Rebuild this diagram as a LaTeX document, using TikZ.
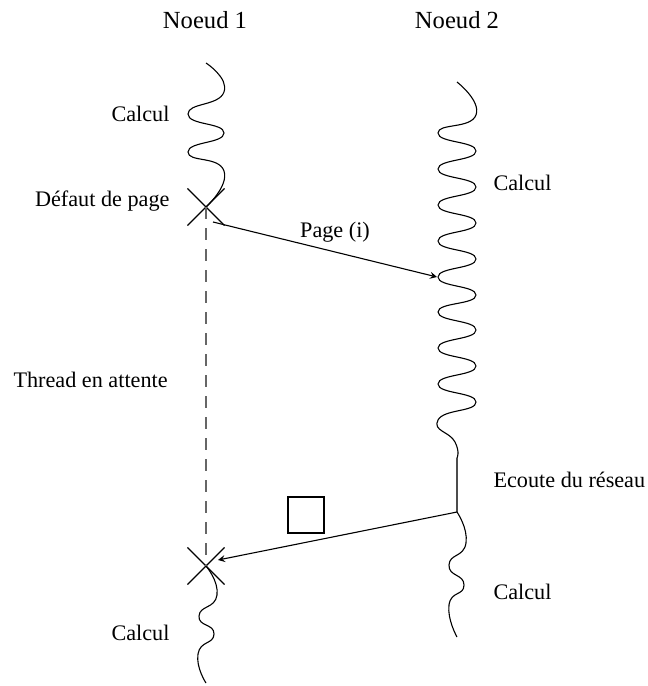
\documentclass[tikz,border=0pt]{standalone}
\usepackage{fontspec}
\setmainfont{Liberation Serif}
\usetikzlibrary{shapes.misc}

\tikzset{
  calcul/.style={smooth,tension=1},
  attente/.style={black!60,line width=0.6pt,dash pattern=on 6pt off 4.5pt},
  croix/.style={draw,cross out,inner sep=0pt,minimum size=18pt},
  lbl/.style={font=\fontsize{11.1}{13}\selectfont,inner sep=0pt}
}

\begin{document}
\begin{tikzpicture}[x=0.5pt,y=-0.5pt,line width=0.55pt]
\useasboundingbox (0,0) rectangle (648,686);
% les deux noeuds
\node (n1) at (205,20) {\fontsize{12.3}{15}\selectfont Noeud 1};
\node (n2) at (457,20) {\fontsize{12.3}{15}\selectfont Noeud 2};
\coordinate (c2) at (457,458);
\coordinate (e2) at (457,512);
\node[croix] (x1) at (206,207) {};
\node[croix] (x2) at (206,566) {};
% noeud 1
\draw plot[calcul] coordinates {(206,63) (224,92) (188,114) (224,133) (188,152) (224,171) (206,207)};
\draw[attente] (x1.center) -- (x2.center);
\draw plot[calcul] coordinates {(206,566) (217,595) (199,616) (214,634) (198,654) (206,683)};
% noeud 2
\draw plot[calcul] coordinates {(457,82) (476,115) (438,133) (476,151) (438,169) (476,187)
  (438,205) (476,223) (438,241) (476,259) (438,277) (476,295) (438,312) (476,330)
  (438,348) (476,366) (438,384) (476,402) (438,420) (455,442) (457,458)};
\draw[black!70] (c2) -- (e2);
\draw plot[calcul] coordinates {(457,512) (466,543) (449,565) (464,585) (449,605) (457,637)};
% messages
\coordinate (p1) at (213,222);
\coordinate (p2) at (437,277);
\draw[-stealth] (p1) -- (p2);
\node[lbl] (pg) at (335,232) {Page (i)};
\coordinate (r1) at (218,560);
\draw[-stealth] (e2) -- (r1);
\node[draw,minimum size=18pt,inner sep=0pt] (pq) at (306,515) {};
% textes
\node[lbl,anchor=east] (t1) at (170,114) {Calcul};
\node[lbl,anchor=east] (t2) at (170,201) {Défaut de page};
\node[lbl,anchor=west] (t3) at (13,380) {Thread en attente};
\node[lbl,anchor=east] (t4) at (170,633) {Calcul};
\node[lbl,anchor=west] (t5) at (493,183) {Calcul};
\node[lbl,anchor=west] (t6) at (493,480) {Ecoute du réseau};
\node[lbl,anchor=west] (t7) at (493,592) {Calcul};
\end{tikzpicture}
\end{document}
